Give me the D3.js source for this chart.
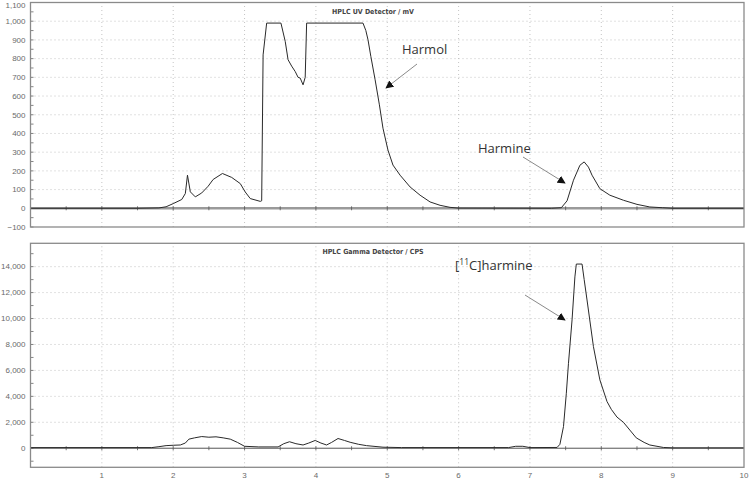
<!DOCTYPE html>
<html><head><meta charset="utf-8">
<script src="https://cdn.jsdelivr.net/npm/d3@7"></script>
<style>
body{margin:0;background:#fff;}
svg{display:block;}
</style></head>
<body>
<svg id="c" width="750" height="481"></svg>
<script>
// ---- data ----
const uvTime = [0,1.5,1.8,1.9,2.0,2.12,2.17,2.2,2.24,2.31,2.4,2.49,2.56,2.69,2.82,2.94,3.01,3.08,3.22,3.24,3.26,3.31,3.51,3.57,3.61,3.66,3.71,3.75,3.78,3.82,3.85,3.87,4.66,4.70,4.73,4.77,4.83,4.89,4.94,5.01,5.08,5.18,5.32,5.46,5.60,5.74,5.88,6.0,7.3,7.44,7.52,7.61,7.70,7.76,7.82,7.87,7.98,8.12,8.31,8.50,8.68,8.86,9.0,10];
const uvValue = [0,0,2,8,25,47,79,177,88,61,82,118,154,186,165,132,87,52,37,40,820,990,990,892,794,760,731,700,696,660,700,990,990,950,901,812,687,553,428,311,231,177,114,70,34,16,5,1,0,3,40,150,230,248,220,177,105,70,43,21,7,3,0,0];
const gTime = [0,1.7,1.8,1.9,2.0,2.1,2.17,2.22,2.3,2.4,2.5,2.6,2.7,2.8,2.9,3.0,3.2,3.47,3.55,3.63,3.72,3.82,3.9,3.99,4.07,4.15,4.22,4.31,4.4,4.48,4.6,4.71,4.94,5.2,6.7,6.8,6.9,7.0,7.38,7.42,7.47,7.51,7.54,7.59,7.63,7.65,7.73,7.76,7.80,7.89,7.98,8.08,8.14,8.22,8.31,8.40,8.49,8.60,8.68,8.87,9.0,10];
const gValue = [50,50,120,200,230,250,400,700,800,900,850,880,800,700,450,150,100,100,350,500,350,250,400,600,400,250,450,750,600,460,300,200,80,50,50,150,150,50,60,300,1670,4240,6550,9890,13210,14200,14200,13000,11430,7830,5270,3600,3000,2400,2000,1400,800,450,250,60,30,30];
const xTicks = [1,2,3,4,5,6,7,8,9,10];
const uvTicks = [-100,0,100,200,300,400,500,600,700,800,900,1000,1100];
const gTicks = [0,2000,4000,6000,8000,10000,12000,14000];
const titles = ["HPLC UV Detector / mV","HPLC Gamma Detector / CPS"];

// ---- layout ----
const svg = d3.select("#c");
const L = 30.5, R = 744;
const x = d3.scaleLinear().domain([0,10]).range([L,R]);
const yUV = d3.scaleLinear().domain([-100,1100]).range([227,2.5]);
const yG = d3.scaleLinear().domain([-1470,15800]).range([467.3,243.3]);

const defs = svg.append("defs");
defs.append("marker").attr("id","ah").attr("viewBox","0 0 10 10").attr("refX",9).attr("refY",5)
  .attr("markerWidth",8).attr("markerHeight",8).attr("markerUnits","userSpaceOnUse").attr("orient","auto")
  .append("path").attr("d","M0,0 L10,5 L0,10 Z").attr("fill","#111");

function panel(y, ticks, minorStep, fmt, time, vals, title, zeroStyle){
  const [d0,d1] = y.domain();
  const g = svg.append("g");
  // grid
  g.selectAll(".hg").data(ticks.filter(t=>t!==0 && t>d0 && t<d1)).join("line")
    .attr("x1",L).attr("x2",R).attr("y1",d=>y(d)).attr("y2",d=>y(d))
    .attr("stroke","#b5b5b5").attr("stroke-width",0.8).attr("stroke-dasharray","1,3");
  g.selectAll(".vg").data(xTicks.slice(0,-1)).join("line")
    .attr("x1",d=>x(d)).attr("x2",d=>x(d)).attr("y1",y.range()[0]).attr("y2",y.range()[1])
    .attr("stroke","#b5b5b5").attr("stroke-width",0.8).attr("stroke-dasharray","1,3");
  // minor ticks on left axis
  const minor = d3.range(Math.ceil(d0/minorStep)*minorStep, d1+1e-6, minorStep);
  g.selectAll(".mt").data(minor).join("line")
    .attr("x1",L).attr("x2",L+3).attr("y1",d=>y(d)).attr("y2",d=>y(d))
    .attr("stroke","#666").attr("stroke-width",0.8);
  // zero line
  g.append("line").attr("x1",L).attr("x2",R).attr("y1",y(0)).attr("y2",y(0))
    .attr("stroke",zeroStyle.c).attr("stroke-width",zeroStyle.w);
  // x ticks on zero line
  g.selectAll(".xt").data(d3.range(0.5,10,0.5)).join("line")
    .attr("x1",d=>x(d)).attr("x2",d=>x(d)).attr("y1",y(0)-2).attr("y2",y(0)+2)
    .attr("stroke","#555").attr("stroke-width",0.8);
  // trace
  g.append("path").datum(d3.zip(time,vals))
    .attr("d",d3.line().x(d=>x(d[0])).y(d=>y(d[1])))
    .attr("fill","none").attr("stroke","#2a2a2a").attr("stroke-width",1);
  // frame
  g.append("rect").attr("x",L).attr("y",y.range()[1]).attr("width",R-L).attr("height",y.range()[0]-y.range()[1])
    .attr("fill","none").attr("stroke","#8a8a8a").attr("stroke-width",1.3);
  // tick labels
  g.selectAll(".yl").data(ticks).join("text")
    .attr("x",L-5).attr("y",d=>Math.max(y(d),5.5)).attr("dy","0.35em").attr("text-anchor","end")
    .attr("font-family","Liberation Sans, Arial, sans-serif").attr("font-size",8).attr("fill","#6a6a6a")
    .text(fmt);
  g.append("text").attr("x",373).attr("y",y.range()[1]+11).attr("text-anchor","middle")
    .attr("font-family","DejaVu Sans Condensed, Liberation Sans, sans-serif").attr("font-weight","bold")
    .attr("font-size",7).attr("fill","#444").text(title);
}
const fmt = d3.format(",");
panel(yUV, uvTicks, 50, fmt, uvTime, uvValue, titles[0], {c:"#9a9a9a", w:2.5});
panel(yG, gTicks, 1000, fmt, gTime, gValue, titles[1], {c:"#555", w:1});

// x axis labels
svg.selectAll(".xl").data(xTicks).join("text")
  .attr("x",d=>x(d)).attr("y",478).attr("text-anchor","middle")
  .attr("font-family","Liberation Sans, Arial, sans-serif").attr("font-size",8).attr("fill","#6a6a6a")
  .text(d=>d);

// annotations
const ann = svg.append("g").attr("font-family","Open Sans, Noto Sans, sans-serif").attr("font-size",13).attr("fill","#333");
ann.append("text").attr("x",402).attr("y",54).text("Harmol");
ann.append("text").attr("x",478).attr("y",153).text("Harmine");
const t3 = ann.append("text").attr("x",455).attr("y",270);
t3.append("tspan").text("[");
t3.append("tspan").attr("font-size",8.5).attr("dy",-5.5).text("11");
t3.append("tspan").attr("dy",5.5).text("C]harmine");
const arrows = [[417,64,386,88],[523,157,565,183],[525,295,565,320]];
svg.selectAll(".ar").data(arrows).join("line")
  .attr("x1",d=>d[0]).attr("y1",d=>d[1]).attr("x2",d=>d[2]).attr("y2",d=>d[3])
  .attr("stroke","#8a8a8a").attr("stroke-width",1).attr("marker-end","url(#ah)");
</script>
</body></html>
